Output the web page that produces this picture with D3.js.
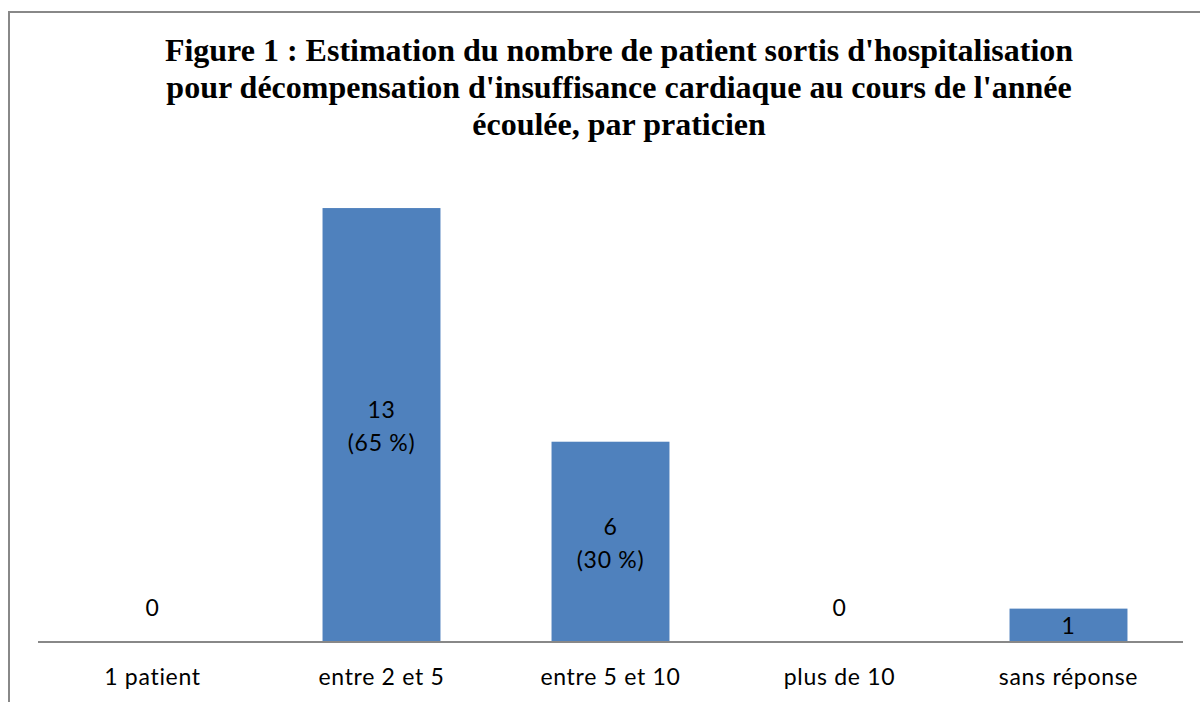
<!DOCTYPE html>
<html><head><meta charset="utf-8">
<script src="https://cdn.jsdelivr.net/npm/d3@7/dist/d3.min.js"></script>
<style>html,body{margin:0;padding:0;background:#fff;overflow:hidden}</style>
</head><body>
<svg id="c" width="1200" height="702"></svg>
<script>
const categories = ["1 patient", "entre 2 et 5", "entre 5 et 10", "plus de 10", "sans réponse"];
const values = [0, 13, 6, 0, 1];
const percentLabels = ["", "(65 %)", "(30 %)", "", ""];
const titleLines = [
  "Figure 1 : Estimation du nombre de patient sortis d'hospitalisation",
  "pour décompensation d'insuffisance cardiaque au cours de l'année",
  "écoulée, par praticien"
];

const svg = d3.select("#c");
// frame
svg.append("line").attr("x1", 9).attr("x2", 9).attr("y1", 11).attr("y2", 702)
  .attr("stroke", "#888").attr("stroke-width", 2);
svg.append("line").attr("x1", 8).attr("x2", 1200).attr("y1", 12).attr("y2", 12)
  .attr("stroke", "#888").attr("stroke-width", 2);

// title
svg.append("g").selectAll("text").data(titleLines).enter().append("text")
  .attr("x", 619).attr("y", (d, i) => 61 + i * 37)
  .attr("text-anchor", "middle")
  .attr("font-family", "'Liberation Serif', 'Times New Roman', serif")
  .attr("font-weight", "bold").attr("font-size", 32)
  .attr("fill", "#000").text(d => d);

const x = d3.scaleBand().domain(categories).range([38, 1183]).paddingInner(0.485).paddingOuter(0.2425);
const y = d3.scaleLinear().domain([0, 14]).range([642, 642 - 14 * 33.38]);

const font = "Lato, 'Open Sans', sans-serif";
const fs = 23, ls = 0.7;

svg.append("g").selectAll("rect").data(values).enter().append("rect")
  .attr("x", (d, i) => x(categories[i]))
  .attr("width", x.bandwidth())
  .attr("y", d => y(d))
  .attr("height", d => y(0) - y(d))
  .attr("fill", "#4f81bd");

// axis baseline
const [r0, r1] = x.range();
svg.append("line").attr("x1", r0).attr("x2", r1).attr("y1", y(0)).attr("y2", y(0))
  .attr("stroke", "#888").attr("stroke-width", 2);

const axis = svg.append("g").attr("transform", `translate(0,${y(0)})`)
  .call(d3.axisBottom(x).tickSize(0).tickPadding(27));
axis.select(".domain").remove();
axis.selectAll(".tick line").remove();
axis.selectAll(".tick text").attr("font-family", font).attr("font-size", fs)
  .attr("letter-spacing", ls).attr("fill", "#000");

// value labels
const lbl = svg.append("g").attr("font-family", font).attr("font-size", fs)
  .attr("letter-spacing", ls).attr("fill", "#000").attr("text-anchor", "middle");
values.forEach((v, i) => {
  const cx = x(categories[i]) + x.bandwidth() / 2;
  if (v === 0) {
    lbl.append("text").attr("x", cx).attr("y", y(0) - 34).attr("dy", "0.35em").text(v);
  } else if (percentLabels[i]) {
    const mid = (y(v) + y(0)) / 2;
    lbl.append("text").attr("x", cx).attr("y", mid - 15).attr("dy", "0.35em").text(v);
    lbl.append("text").attr("x", cx).attr("y", mid + 18).attr("dy", "0.35em").text(percentLabels[i]);
  } else {
    const mid = (y(v) + y(0)) / 2;
    lbl.append("text").attr("x", cx).attr("y", mid + 1).attr("dy", "0.35em").text(v);
  }
});
</script>
</body></html>
